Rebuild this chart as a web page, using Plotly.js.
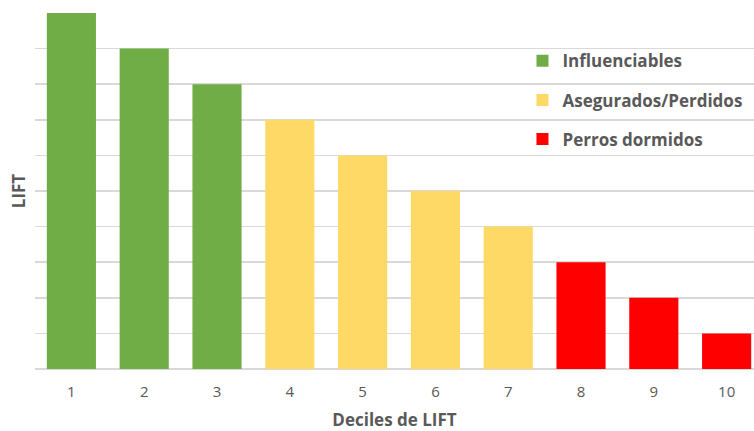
<!DOCTYPE html>
<html>
<head>
<meta charset="utf-8">
<script src="https://cdn.plot.ly/plotly-3.0.1.min.js"></script>
<style>
  html, body { margin: 0; padding: 0; background: #ffffff; }
  #chart { width: 754px; height: 431px; }
</style>
</head>
<body>
<div id="chart"></div>
<script>
// Deciles and LIFT values, split into the three customer segments
const influDeciles = [1, 2, 3];
const influLift = [10, 9, 8];
const asegDeciles = [4, 5, 6, 7];
const asegLift = [7, 6, 5, 4];
const perrosDeciles = [8, 9, 10];
const perrosLift = [3, 2, 1];
const segmentNames = ['Influenciables', 'Asegurados/Perdidos', 'Perros dormidos'];
const tickLabels = ['1', '2', '3', '4', '5', '6', '7', '8', '9', '10'];

const colors = ['#70ad47', '#ffd966', '#ff0000'];
const FONT = 'Open Sans, Liberation Sans, sans-serif';

function segment(x, y, i) {
  return {
    type: 'bar',
    x: x,
    y: y,
    name: segmentNames[i],
    legendgroup: 'g' + i,
    marker: { color: colors[i], line: { width: 0 } },
    width: 0.675,
    hoverinfo: 'x+y'
  };
}

const data = [
  segment(influDeciles, influLift, 0),
  segment(asegDeciles, asegLift, 1),
  segment(perrosDeciles, perrosLift, 2)
];

const layout = {
  width: 754,
  height: 431,
  margin: { l: 35, r: 0, t: 13, b: 62 },
  paper_bgcolor: '#ffffff',
  plot_bgcolor: '#ffffff',
  barmode: 'overlay',
  showlegend: true,
  legend: {
    x: 0.678, xanchor: 'left',
    y: 0.915, yanchor: 'top',
    bgcolor: 'rgba(0,0,0,0)',
    font: { family: FONT, size: 17, color: '#595959', weight: 700 },
    tracegroupgap: 14,
    traceorder: 'grouped'
  },
  xaxis: {
    range: [0.5, 10.376],
    tickmode: 'array',
    tickvals: tickLabels.map(Number),
    ticktext: tickLabels,
    ticks: '',
    ticklabelstandoff: 12,
    showgrid: false,
    zeroline: false,
    showline: false,
    tickfont: { family: FONT, size: 15, color: '#595959' },
    title: {
      text: 'Deciles de LIFT',
      font: { family: FONT, size: 17, color: '#595959', weight: 700 },
      standoff: 14
    }
  },
  yaxis: {
    range: [0, 10],
    dtick: 1,
    showticklabels: false,
    ticks: '',
    showgrid: true,
    gridcolor: '#d9d9d9',
    gridwidth: 1.5,
    zeroline: true,
    zerolinecolor: '#d9d9d9',
    zerolinewidth: 1.5,
    showline: false,
    title: {
      text: 'LIFT',
      font: { family: FONT, size: 17, color: '#595959', weight: 700 },
      standoff: 4
    }
  }
};

Plotly.newPlot('chart', data, layout, { displayModeBar: false, staticPlot: true });
</script>
</body>
</html>
